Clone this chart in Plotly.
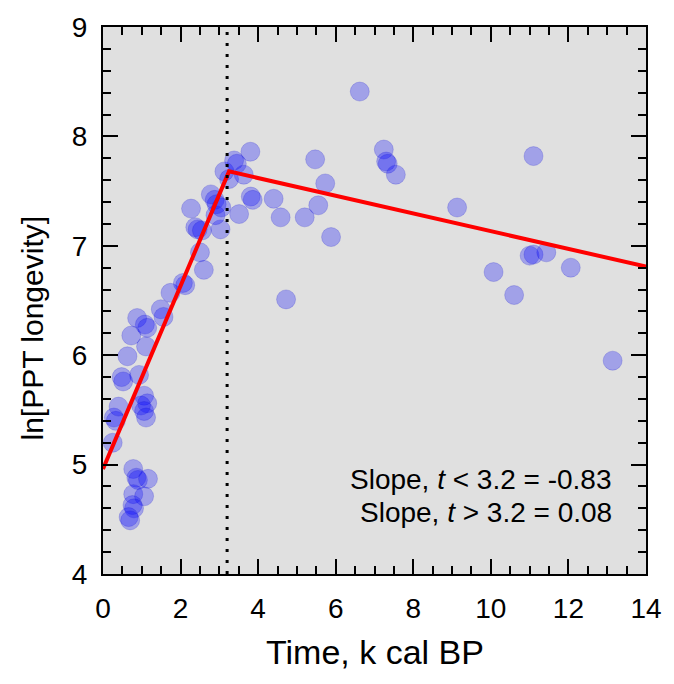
import plotly.graph_objects as go

# Observations: time (k cal BP) and ln[PPT longevity]
time_k = [
    0.25, 0.28, 0.33, 0.40, 0.48, 0.52, 0.63, 0.73, 0.88, 1.08, 1.14,
    1.49, 1.56, 1.11, 0.93, 1.06, 1.14, 0.98, 1.06, 1.11,
    0.78, 0.86, 0.90, 1.16, 0.78, 1.06, 0.76, 0.80, 0.66, 0.70,
    1.74, 2.06, 2.12, 2.60, 2.50, 2.38, 2.44, 2.55, 2.27, 3.03,
    2.78, 2.88, 2.93, 2.90, 3.05, 3.13, 3.25, 3.38, 3.45, 3.63,
    3.80, 3.81, 3.86, 3.51, 4.40, 4.58, 4.72, 5.20, 5.47, 5.73,
    5.55, 5.88, 6.62, 7.24, 7.30, 7.34, 7.55, 9.13, 10.07, 10.60,
    11.00, 11.10, 11.43, 11.10, 12.06, 13.14,
]
ln_longevity = [
    5.20, 5.43, 5.40, 5.53, 5.80, 5.76, 5.99, 6.18, 6.34, 6.28, 6.25,
    6.42, 6.35, 6.08, 5.82, 5.63, 5.56, 5.54, 5.49, 5.43,
    4.96, 4.88, 4.86, 4.87, 4.73, 4.71, 4.63, 4.60, 4.52, 4.49,
    6.57, 6.66, 6.64, 6.78, 6.94, 7.17, 7.15, 7.14, 7.34, 7.15,
    7.47, 7.42, 7.38, 7.28, 7.35, 7.68, 7.61, 7.78, 7.75, 7.65,
    7.86, 7.45, 7.42, 7.29, 7.43, 7.26, 6.51, 7.26, 7.79, 7.57,
    7.37, 7.08, 8.41, 7.88, 7.77, 7.75, 7.65, 7.35, 6.76, 6.55,
    6.91, 6.92, 6.94, 7.82, 6.80, 5.95,
]

# Piecewise regression fit (breakpoint at ~3.25)
fit_x = [0.0, 3.25, 14.0]
fit_y = [4.96, 7.68, 6.81]

breakpoint_t = 3.2
slope_labels = [
    "Slope, <i>t</i> &lt; 3.2 = -0.83",
    "Slope, <i>t</i> &gt; 3.2 = 0.08",
]
slope_label_y = [4.86, 4.56]
slope_label_x = 13.17

FONT = "Arial, Liberation Sans, Helvetica, sans-serif"

fig = go.Figure()
fig.add_trace(go.Scatter(
    x=time_k, y=ln_longevity, mode="markers",
    marker=dict(size=19, color="rgba(0,0,255,0.28)",
                line=dict(color="rgba(0,0,200,0.18)", width=1)),
    showlegend=False, hoverinfo="x+y",
))
fig.add_trace(go.Scatter(
    x=fit_x, y=fit_y, mode="lines",
    line=dict(color="#ff0000", width=4),
    showlegend=False, hoverinfo="skip",
))

fig.add_shape(type="line", x0=breakpoint_t, x1=breakpoint_t, y0=4, y1=9,
              xref="x", yref="y", layer="above",
              line=dict(color="black", width=3, dash="3px,8px"))

for txt, yy in zip(slope_labels, slope_label_y):
    fig.add_annotation(x=slope_label_x, y=yy, xref="x", yref="y", text=txt,
                       showarrow=False, xanchor="right", yanchor="middle",
                       font=dict(family=FONT, size=28, color="black"))

# Axis titles as annotations for precise placement
fig.add_annotation(x=0.5, y=0, xref="paper", yref="paper",
                   text="Time, k cal BP", showarrow=False,
                   xanchor="center", yanchor="middle", yshift=-78,
                   font=dict(family=FONT, size=34, color="black"))
fig.add_annotation(x=0, y=0.5, xref="paper", yref="paper",
                   text="ln[PPT longevity]", showarrow=False, textangle=-90,
                   xanchor="center", yanchor="middle", xshift=-71, yshift=-28,
                   font=dict(family=FONT, size=30, color="black"))

axis_common = dict(
    showgrid=False, zeroline=False, showline=True, linecolor="black",
    linewidth=2, mirror="allticks", ticks="inside", ticklen=15,
    tickwidth=2, tickcolor="black",
    tickfont=dict(family=FONT, size=28, color="black"),
)
fig.update_xaxes(range=[0, 14], tick0=0, dtick=2,
                 minor=dict(dtick=0.5, ticks="inside", ticklen=8,
                            tickwidth=2, tickcolor="black"),
                 ticklabelstandoff=8, **axis_common)
fig.update_yaxes(range=[4, 9], tick0=4, dtick=1,
                 minor=dict(dtick=0.2, ticks="inside", ticklen=8,
                            tickwidth=2, tickcolor="black"),
                 ticklabelstandoff=8, **axis_common)

fig.update_layout(
    width=674, height=684,
    margin=dict(l=103, r=16, t=18, b=110),
    plot_bgcolor="#e0e0e0", paper_bgcolor="white",
    font=dict(family=FONT, color="black"),
)

fig.write_html("out.html",
               config={"displayModeBar": False},
               post_script="document.body.style.margin='0';"
                           "document.body.style.overflow='hidden';")
